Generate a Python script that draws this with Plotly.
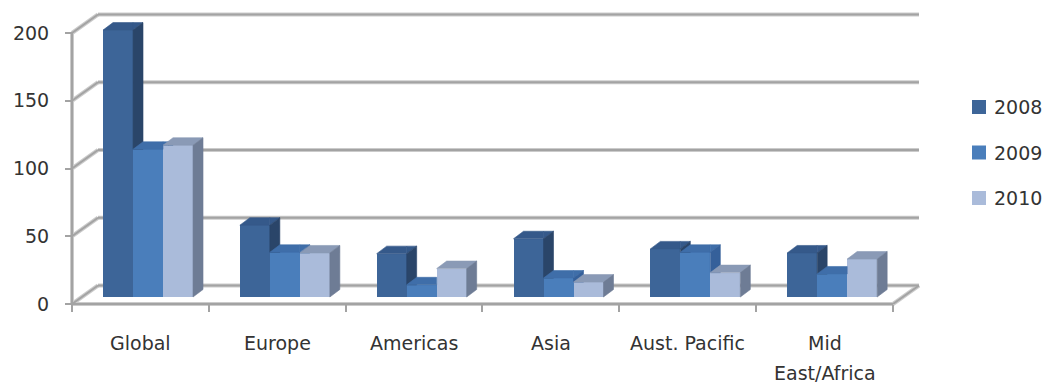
import plotly.graph_objects as go

# ---- data -------------------------------------------------------------
categories = ["Global", "Europe", "Americas", "Asia", "Aust. Pacific", "Mid East/Africa"]
category_labels = ["Global", "Europe", "Americas", "Asia", "Aust. Pacific", "Mid<br>East/Africa"]
years = ["2008", "2009", "2010"]
values_2008 = [197, 53, 32, 43, 35.5, 32.5]
values_2009 = [109, 33, 9, 14, 33, 17]
values_2010 = [112, 32.5, 21, 11, 18, 28]
y_ticks = [0, 50, 100, 150, 200]

series = [values_2008, values_2009, values_2010]

# ---- styling ------------------------------------------------------------
W, H = 1046, 383
FONT = "DejaVu Sans"
TEXT = "#333333"
front_colors = ["#3D6598", "#4A7EBB", "#AABBDA"]
top_colors = ["#35598A", "#3F6EA9", "#8A9AB6"]
side_colors = ["#2A4569", "#35609A", "#6E7C95"]
GRID_OUTER = "#CBCBCB"
GRID_INNER = "#A3A3A3"

# pixel geometry of the oblique projection
PX_X = 136.83          # px per category
PX_Y = 1.355           # px per value unit
X0_PX, Y0_PX = 72, 304  # front-left-bottom corner of the floor

x_range = [-X0_PX / PX_X, (W - X0_PX) / PX_X]
y_range = [-(H - Y0_PX) / PX_Y, Y0_PX / PX_Y]

WALL_DX, WALL_DY = 26 / PX_X, 18.5 / PX_Y      # depth of the back wall
BAR_W = 30 / PX_X
GROUP_SHIFT = 7.6 / PX_X
BAR_BASE = 7 / PX_Y
DEPTH_DX, DEPTH_DY = 10 / PX_X, 7.5 / PX_Y     # depth of a column

n_cat = len(categories)


def px_to_x(px):
    return (px - X0_PX) / PX_X


def px_to_y(py):
    return (Y0_PX - py) / PX_Y


def clip(poly, axis, limit, keep_greater):
    """Sutherland-Hodgman clip of a polygon against one axis-aligned half-plane."""
    out = []
    if not poly:
        return out

    def inside(p):
        return p[axis] >= limit if keep_greater else p[axis] <= limit

    for i in range(len(poly)):
        cur, prev = poly[i], poly[i - 1]
        if inside(cur):
            if not inside(prev):
                t = (limit - prev[axis]) / (cur[axis] - prev[axis])
                out.append((prev[0] + t * (cur[0] - prev[0]), prev[1] + t * (cur[1] - prev[1])))
            out.append(cur)
        elif inside(prev):
            t = (limit - prev[axis]) / (cur[axis] - prev[axis])
            out.append((prev[0] + t * (cur[0] - prev[0]), prev[1] + t * (cur[1] - prev[1])))
    return out


def area(poly):
    s = 0.0
    for i in range(len(poly)):
        x1, y1 = poly[i - 1]
        x2, y2 = poly[i]
        s += x1 * y2 - x2 * y1
    return abs(s) / 2


def visible(poly, nxt):
    """Part of a face not hidden by the front face of the next column."""
    if nxt is None:
        return [poly]
    x_left, y_top = nxt
    a = clip(poly, 0, x_left, False)
    b = clip(clip(poly, 0, x_left, True), 1, y_top, True)
    return [p for p in (a, b) if len(p) >= 3 and area(p) > 1e-6]


fig = go.Figure()

# front faces of the columns
for j, (year, vals) in enumerate(zip(years, series)):
    xs = [i + 0.5 + GROUP_SHIFT + (j - 1) * BAR_W for i in range(n_cat)]
    fig.add_trace(go.Bar(
        x=xs, y=vals, base=[BAR_BASE] * n_cat, width=BAR_W,
        name=year, showlegend=False,
        marker=dict(color=front_colors[j], line=dict(width=0)),
        hoverinfo="skip",
    ))

# top and side faces, drawn column by column so nearer faces overlap
for i in range(n_cat):
    for j, vals in enumerate(series):
        left = i + 0.5 + GROUP_SHIFT + (j - 1.5) * BAR_W
        right = left + BAR_W
        top = BAR_BASE + vals[i]
        nxt = None
        if j + 1 < len(series):
            nxt = (right, BAR_BASE + series[j + 1][i])
        top_face = [(left, top), (right, top), (right + DEPTH_DX, top + DEPTH_DY), (left + DEPTH_DX, top + DEPTH_DY)]
        side_face = [(right, BAR_BASE), (right + DEPTH_DX, BAR_BASE + DEPTH_DY),
                     (right + DEPTH_DX, top + DEPTH_DY), (right, top)]
        for face, color in ((top_face, top_colors[j]), (side_face, side_colors[j])):
            for piece in visible(face, nxt):
                fig.add_trace(go.Scatter(
                    x=[p[0] for p in piece] + [piece[0][0]],
                    y=[p[1] for p in piece] + [piece[0][1]],
                    mode="lines", fill="toself", fillcolor=color,
                    line=dict(color=color, width=0.6),
                    showlegend=False, hoverinfo="skip",
                ))

# legend: one square swatch and label per year
annotations = []
for j, year in enumerate(years):
    ly = px_to_y(107 + 45.5 * j)
    fig.add_trace(go.Scatter(
        x=[px_to_x(979)], y=[ly], mode="markers",
        marker=dict(symbol="square", size=14, color=front_colors[j], line=dict(width=0)),
        name=year, showlegend=False, hoverinfo="skip", cliponaxis=False,
    ))
    annotations.append(dict(
        x=px_to_x(992), y=ly, xref="x", yref="y", text=year, showarrow=False,
        xanchor="left", yanchor="middle", font=dict(family=FONT, size=19, color=TEXT),
    ))

# walls and floor of the 3-D frame
frame = []
for v in y_ticks:
    frame.append((WALL_DX, v + WALL_DY, n_cat + WALL_DX, v + WALL_DY))   # back wall grid
    frame.append((0, v, WALL_DX, v + WALL_DY))                          # side wall grid
frame.append((0, 0, 0, y_ticks[-1]))                                    # front left edge
frame.append((0, 0, n_cat, 0))                                          # front floor edge
frame.append((n_cat, 0, n_cat + WALL_DX, WALL_DY))                      # right floor edge

shapes = []
for width, color in ((4, GRID_OUTER), (2, GRID_INNER)):
    for x0, y0, x1, y1 in frame:
        shapes.append(dict(type="line", xref="x", yref="y", x0=x0, y0=y0, x1=x1, y1=y1,
                           layer="below", line=dict(color=color, width=width)))

# category labels under each group
for i, label in enumerate(category_labels):
    for k, line in enumerate(label.split("<br>")):
        annotations.append(dict(
            x=i + 0.5, y=-(39 + 30 * k) / PX_Y, xref="x", yref="y",
            text=line, showarrow=False, xanchor="center", yanchor="middle",
            font=dict(family=FONT, size=19, color=TEXT),
        ))

fig.update_layout(
    width=W, height=H, autosize=False,
    margin=dict(l=0, r=0, t=0, b=0, pad=0),
    paper_bgcolor="white", plot_bgcolor="white",
    barmode="overlay", bargap=0,
    shapes=shapes, annotations=annotations,
    font=dict(family=FONT, size=19, color=TEXT),
    showlegend=False,
    xaxis=dict(
        range=x_range, anchor="free", position=(H - Y0_PX) / H,
        tickmode="array", tickvals=list(range(n_cat + 1)),
        ticks="outside", ticklen=7, tickwidth=2, tickcolor=GRID_INNER,
        showticklabels=False, showgrid=False, zeroline=False, showline=False,
        fixedrange=True,
    ),
    yaxis=dict(
        range=y_range, anchor="free", position=X0_PX / W,
        tickmode="array", tickvals=y_ticks,
        ticks="outside", ticklen=7, tickwidth=2, tickcolor=GRID_INNER,
        ticklabelstandoff=12,
        tickfont=dict(family=FONT, size=19, color=TEXT),
        showgrid=False, zeroline=False, showline=False, fixedrange=True,
    ),
)

fig.write_html("out.html")
